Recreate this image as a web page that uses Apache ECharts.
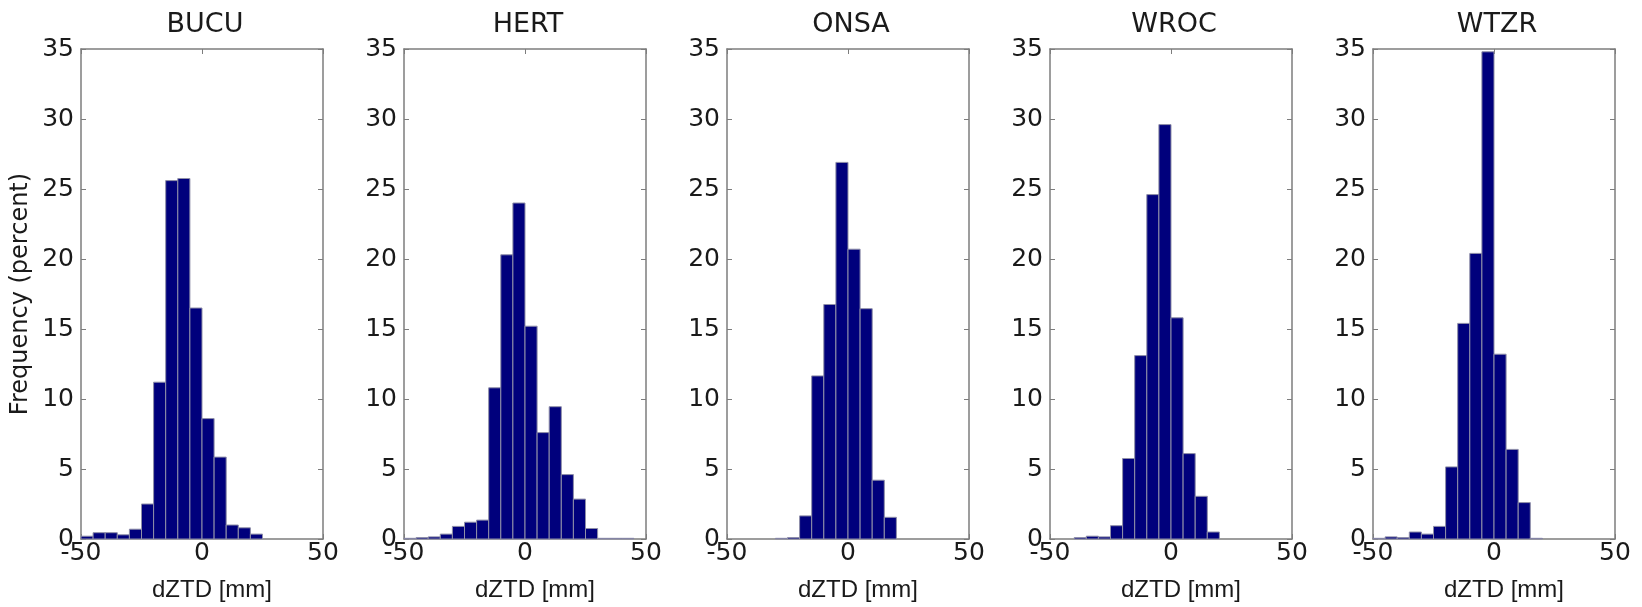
<!DOCTYPE html>
<html>
<head>
<meta charset="utf-8">
<title>dZTD histograms</title>
<script src="https://cdn.jsdelivr.net/npm/echarts@6/dist/echarts.min.js"></script>
<style>
    html, body { margin: 0; padding: 0; background: #fff; }
    #hist { width: 1642px; height: 607px; }
</style>
</head>
<body>
<div id="hist"></div>
<script>
var histChart = echarts.init(document.getElementById('hist'));

// stations, one panel each
var stations = ['BUCU', 'HERT', 'ONSA', 'WROC', 'WTZR'];

// histogram bin edges, 5 mm wide
var binStarts = [-50, -45, -40, -35, -30, -25, -20, -15, -10, -5, 0, 5, 10, 15, 20, 25, 30, 35, 40, 45];
var binWidth = 5;

// frequency (percent) per bin
var bucu = [0.2, 0.45, 0.45, 0.3, 0.7, 2.5, 11.2, 25.6, 25.75, 16.5, 8.6, 5.85, 1.0, 0.8, 0.35, 0, 0, 0, 0, 0];
var hert = [0.05, 0.1, 0.15, 0.35, 0.9, 1.2, 1.35, 10.8, 20.3, 24.0, 15.2, 7.6, 9.45, 4.6, 2.85, 0.75, 0.05, 0.05, 0.05, 0];
var onsa = [0, 0, 0, 0, 0.05, 0.1, 1.65, 11.65, 16.75, 26.9, 20.7, 16.45, 4.2, 1.55, 0, 0, 0, 0, 0, 0];
var wroc = [0, 0, 0.1, 0.2, 0.15, 0.95, 5.75, 13.1, 24.6, 29.6, 15.8, 6.1, 3.05, 0.5, 0, 0, 0, 0, 0, 0];
var wtzr = [0.05, 0.15, 0.1, 0.5, 0.35, 0.9, 5.15, 15.4, 20.4, 34.8, 13.2, 6.4, 2.6, 0.05, 0, 0, 0, 0, 0, 0];

var freqs = [bucu, hert, onsa, wroc, wtzr];

var xTicks = [-50, 0, 50];
var yTicks = [0, 5, 10, 15, 20, 25, 30, 35];

var FONT = '"DejaVu Sans", Verdana, sans-serif';
var FONT_NARROW = '"Liberation Sans", Arial, Helvetica, sans-serif';
var panelLeft = [81, 404, 727, 1050, 1373];
var panelWidth = 242;
var boxColor = '#7d7d7d';
var textColor = '#1a1a1a';

var grids = [], xAxes = [], yAxes = [], titles = [], series = [];

for (var i = 0; i < stations.length; i++) {
    grids.push({
        left: panelLeft[i],
        width: panelWidth,
        top: 49,
        height: 496,
        containLabel: false
    });

    titles.push({
        text: stations[i],
        left: panelLeft[i] + panelWidth / 2 - 2,
        top: 6,
        textAlign: 'center',
        textStyle: { fontFamily: FONT, fontSize: 27, fontWeight: 'normal', color: textColor }
    });

    // bottom x axis, with labels
    xAxes.push({
        type: 'value',
        gridIndex: i,
        position: 'bottom',
        min: xTicks[0],
        max: xTicks[xTicks.length - 1],
        interval: 50,
        name: 'dZTD [mm]',
        nameLocation: 'middle',
        nameGap: 39,
        nameTextStyle: { fontFamily: FONT_NARROW, fontSize: 24, color: textColor, padding: [0, 0, 0, 20] },
        axisLine: { show: true, onZero: false, lineStyle: { color: boxColor, width: 1.5 } },
        axisTick: { show: true, inside: true, length: 5, lineStyle: { color: boxColor } },
        axisLabel: { show: true, margin: 2, fontFamily: FONT, fontSize: 25, color: textColor },
        splitLine: { show: false }
    });
    // top x axis, ticks only (box)
    xAxes.push({
        type: 'value',
        gridIndex: i,
        position: 'top',
        min: xTicks[0],
        max: xTicks[xTicks.length - 1],
        interval: 50,
        axisLine: { show: true, onZero: false, lineStyle: { color: boxColor, width: 1.5 } },
        axisTick: { show: true, inside: true, length: 5, lineStyle: { color: boxColor } },
        axisLabel: { show: false },
        splitLine: { show: false }
    });

    // left y axis, with labels
    yAxes.push({
        type: 'value',
        gridIndex: i,
        position: 'left',
        min: yTicks[0],
        max: yTicks[yTicks.length - 1],
        interval: 5,
        name: i === 0 ? 'Frequency (percent)' : '',
        nameLocation: 'middle',
        nameRotate: 90,
        nameGap: 48,
        nameTextStyle: { fontFamily: FONT, fontSize: 24, color: textColor },
        axisLine: { show: true, onZero: false, lineStyle: { color: boxColor, width: 1.5 } },
        axisTick: { show: true, inside: true, length: 5, lineStyle: { color: boxColor } },
        axisLabel: { show: true, margin: 7, fontFamily: FONT, fontSize: 25, color: textColor },
        splitLine: { show: false }
    });
    // right y axis, ticks only (box)
    yAxes.push({
        type: 'value',
        gridIndex: i,
        position: 'right',
        min: yTicks[0],
        max: yTicks[yTicks.length - 1],
        interval: 5,
        axisLine: { show: true, onZero: false, lineStyle: { color: boxColor, width: 1.5 } },
        axisTick: { show: true, inside: true, length: 5, lineStyle: { color: boxColor } },
        axisLabel: { show: false },
        splitLine: { show: false }
    });

    var data = [];
    for (var k = 0; k < binStarts.length; k++) {
        data.push([binStarts[k], binStarts[k] + binWidth, freqs[i][k]]);
    }

    series.push({
        name: stations[i],
        type: 'custom',
        xAxisIndex: i * 2,
        yAxisIndex: i * 2,
        data: data,
        renderItem: function (params, api) {
            var v = api.value(2);
            if (!v) return null;
            var p0 = api.coord([api.value(0), 0]);
            var p1 = api.coord([api.value(1), v]);
            return {
                type: 'rect',
                shape: { x: p0[0], y: p1[1], width: p1[0] - p0[0], height: p0[1] - p1[1] },
                style: { fill: '#00007c', stroke: '#8f8fa8', lineWidth: 1 }
            };
        },
        encode: { x: [0, 1], y: 2 },
        z: 1
    });
}

var option = {
    backgroundColor: '#ffffff',
    animation: false,
    title: titles,
    grid: grids,
    xAxis: xAxes,
    yAxis: yAxes,
    series: series
};

histChart.setOption(option);
</script>
</body>
</html>
